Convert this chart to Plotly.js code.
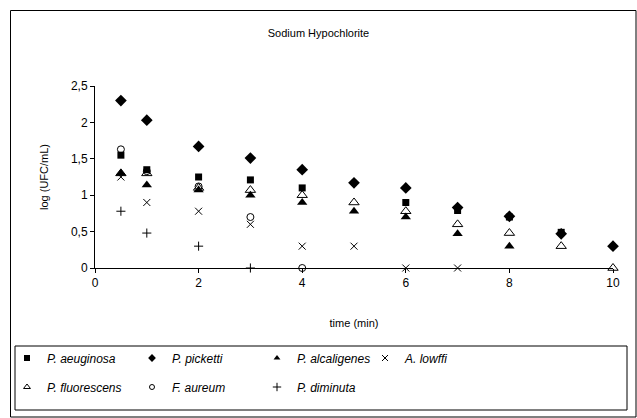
<!DOCTYPE html>
<html>
<head>
<meta charset="utf-8">
<script src="https://cdn.plot.ly/plotly-3.0.1.min.js"></script>
<style>html,body{margin:0;padding:0;background:#fff;}#chart{width:637px;height:418px;}</style>
</head>
<body>
<div id="chart"></div>
<script>
// Data
const timeAeuginosa = [0.5, 1, 2, 3, 4, 6, 7, 8, 9];
const valAeuginosa  = [1.55, 1.35, 1.25, 1.21, 1.10, 0.90, 0.79, 0.70, 0.49];

const timePicketti = [0.5, 1, 2, 3, 4, 5, 6, 7, 8, 9, 10];
const valPicketti  = [2.30, 2.03, 1.67, 1.51, 1.35, 1.17, 1.10, 0.83, 0.71, 0.47, 0.30];

const timeAlcaligenes = [0.5, 1, 2, 3, 4, 5, 6, 7, 8];
const valAlcaligenes  = [1.30, 1.14, 1.07, 1.00, 0.90, 0.78, 0.70, 0.47, 0.30];

const timeLowffi = [0.5, 1, 2, 3, 4, 5, 6, 7];
const valLowffi  = [1.25, 0.90, 0.78, 0.60, 0.30, 0.30, 0, 0];

const timeFluorescens = [0.5, 1, 2, 3, 4, 5, 6, 7, 8, 9, 10];
const valFluorescens  = [1.30, 1.30, 1.10, 1.07, 1.00, 0.90, 0.78, 0.60, 0.48, 0.30, 0];

const timeAureum = [0.5, 1, 2, 3, 4];
const valAureum  = [1.63, 1.33, 1.12, 0.70, 0];

const timeDiminuta = [0.5, 1, 2, 3];
const valDiminuta  = [0.78, 0.48, 0.30, 0];

const seriesNames = ['P. aeuginosa', 'P. picketti', 'P. alcaligenes', 'A. lowffi',
                     'P. fluorescens', 'F. aureum', 'P. diminuta'];

const symbols = ['square', 'diamond', 'triangle-up', 'x-thin',
                 'triangle-up-open', 'circle-open', 'cross-thin'];
const sizes = [7, 9, 9, 7, 9, 7, 6.5];
const lineWidths = [0, 0, 0, 1, 1, 1, 1];
const legendSizes = [6, 6, 6, 6, 6, 5, 6];
const legendIds = ['legend', 'legend', 'legend', 'legend3',
                   'legend2', 'legend2', 'legend2'];

const xs = [timeAeuginosa, timePicketti, timeAlcaligenes, timeLowffi,
            timeFluorescens, timeAureum, timeDiminuta];
const ys = [valAeuginosa, valPicketti, valAlcaligenes, valLowffi,
            valFluorescens, valAureum, valDiminuta];

const data = [];
xs.forEach((x, i) => {
  data.push({
    x: x, y: ys[i], name: seriesNames[i], type: 'scatter', mode: 'markers',
    cliponaxis: false, showlegend: false,
    marker: {symbol: symbols[i], size: sizes[i], color: '#000',
             line: {color: '#000', width: lineWidths[i]}}
  });
});
// legend-only entries (smaller legend symbols, like the reference)
seriesNames.forEach((n, i) => {
  data.push({
    x: [null], y: [null], name: n, type: 'scatter', mode: 'markers',
    showlegend: true, legend: legendIds[i],
    marker: {symbol: symbols[i], size: legendSizes[i], color: '#000',
             line: {color: '#000', width: lineWidths[i]}}
  });
});

const L = 95, R = 613, T = 86, B = 268;
const W = R - L, H = B - T;
const px = v => (v - L) / W;
const py = v => (B - v) / H;

const legendCommon = {
  orientation: 'h', xanchor: 'left', yanchor: 'middle',
  font: {size: 12, style: 'italic'}, bgcolor: 'rgba(0,0,0,0)',
  entrywidth: 80, entrywidthmode: 'pixels', itemwidth: 30,
  traceorder: 'normal'
};

const layout = {
  width: 637, height: 418,
  margin: {l: L, r: 637 - R, t: T, b: 418 - B, autoexpand: false},
  paper_bgcolor: '#fff', plot_bgcolor: '#fff',
  separators: ', ',
  font: {family: 'Liberation Sans, Arial, sans-serif', size: 12, color: '#000'},
  title: {text: 'Sodium Hypochlorite', font: {size: 11, color: '#000'},
          x: 0.5, xanchor: 'center', y: 1 - 33 / 418, yanchor: 'middle'},
  xaxis: {
    range: [0, 10], dtick: 2, tick0: 0, showgrid: false, zeroline: false,
    showline: true, linecolor: '#000', linewidth: 1, automargin: false,
    ticks: 'outside', ticklen: 4, tickcolor: '#000',
    tickfont: {size: 12},
    title: {text: 'time (min)', font: {size: 11}, standoff: 29}
  },
  yaxis: {
    range: [0, 2.5], dtick: 0.5, tick0: 0, showgrid: false, zeroline: false,
    showline: true, linecolor: '#000', linewidth: 1, automargin: false,
    ticks: 'outside', ticklen: 4, tickcolor: '#000',
    tickfont: {size: 12},
    title: {text: 'log (UFC/mL)', font: {size: 11}, standoff: 20}
  },
  showlegend: true,
  legend: Object.assign({}, legendCommon, {x: px(7), y: py(358)}),
  legend2: Object.assign({}, legendCommon, {x: px(7), y: py(387)}),
  legend3: Object.assign({}, legendCommon, {x: px(365), y: py(358)}),
  shapes: [
    {type: 'rect', xref: 'paper', yref: 'paper',
     x0: px(10.5), x1: px(636), y0: py(417), y1: py(10.5),
     line: {color: '#000', width: 1}},
    {type: 'rect', xref: 'paper', yref: 'paper',
     x0: px(15), x1: px(627), y0: py(410), y1: py(346),
     line: {color: '#000', width: 1}}
  ]
};

Plotly.newPlot('chart', data, layout, {displayModeBar: false, staticPlot: true});
</script>
</body>
</html>
